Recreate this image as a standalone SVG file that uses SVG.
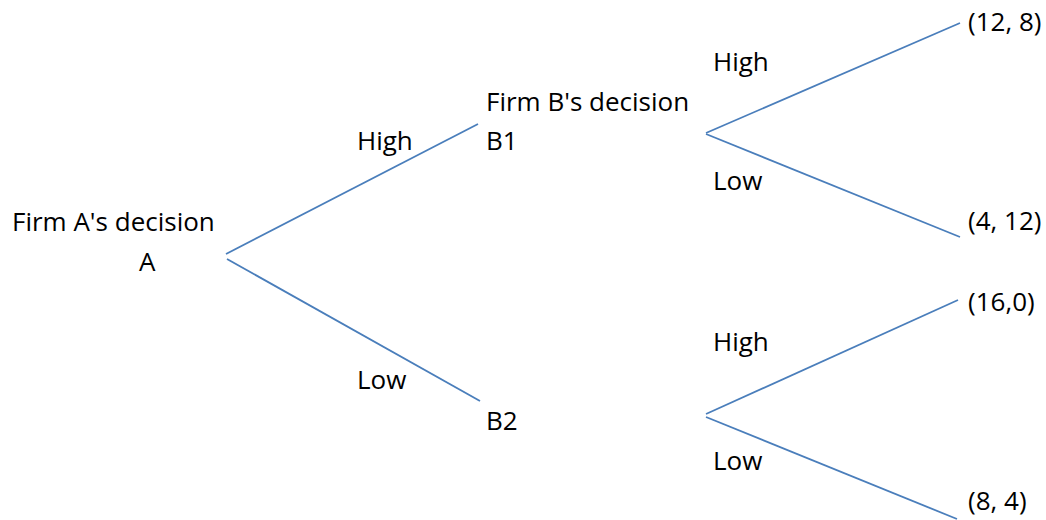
<svg xmlns="http://www.w3.org/2000/svg" width="1046" height="520" viewBox="0 0 1046 520">
<style>
.t{font-family:"Open Sans","Liberation Sans",Arial,sans-serif;font-size:26px;fill:#000}
.c{stroke:#4a7ebb;stroke-width:1.8;fill:none}
</style>
<rect width="1046" height="520" fill="#fff"/>
<g id="connectors">
<line class="c" x1="226" y1="254" x2="478" y2="124"/>
<line class="c" x1="227" y1="259" x2="480" y2="401"/>
<line class="c" x1="706" y1="133" x2="960" y2="23"/>
<line class="c" x1="706" y1="134" x2="960" y2="237"/>
<line class="c" x1="706" y1="414" x2="958" y2="300"/>
<line class="c" x1="706" y1="417" x2="957" y2="519"/>
</g>
<g id="nodeA">
<text class="t" x="12" y="231">Firm A's decision</text>
<text class="t" x="139" y="271">A</text>
</g>
<g id="nodeB1">
<text class="t" x="486" y="111">Firm B's decision</text>
<text class="t" x="486" y="150">B1</text>
</g>
<g id="nodeB2">
<text class="t" x="486" y="430">B2</text>
</g>
<g id="labels">
<text class="t" x="357" y="150">High</text>
<text class="t" x="357" y="389">Low</text>
<text class="t" x="713" y="71">High</text>
<text class="t" x="713" y="190">Low</text>
<text class="t" x="713" y="351">High</text>
<text class="t" x="713" y="470">Low</text>
</g>
<g id="payoffs">
<text class="t" x="968" y="31">(12, 8)</text>
<text class="t" x="968" y="230">(4, 12)</text>
<text class="t" x="968" y="311">(16,0)</text>
<text class="t" x="968" y="510">(8, 4)</text>
</g>
</svg>
